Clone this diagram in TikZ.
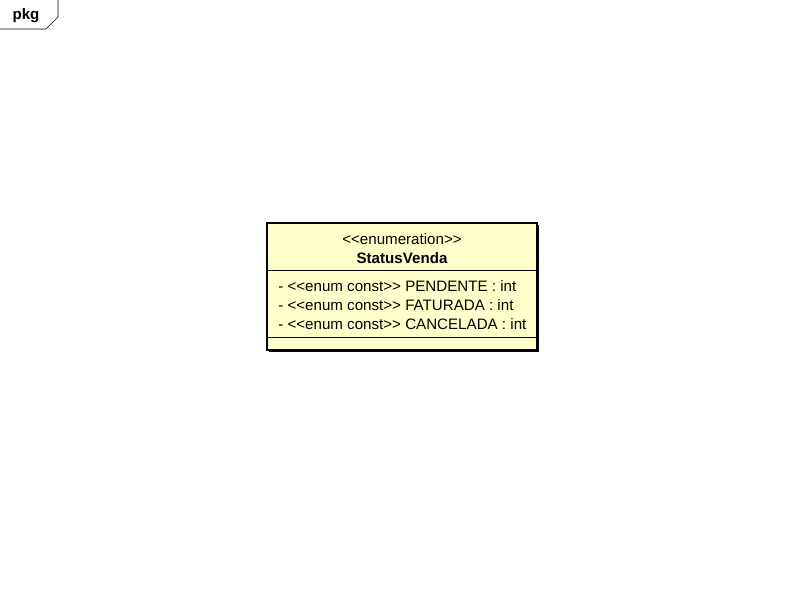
\documentclass[tikz,border=0pt]{standalone}
\usepackage{fontspec}
\setmainfont{Liberation Sans}[Ligatures=TeXOff]
\definecolor{enumfill}{HTML}{FFFFCC}
\tikzset{txt/.style={inner sep=0pt,font=\fontsize{11.35pt}{13pt}\selectfont}}
\begin{document}
\begin{tikzpicture}[x=0.75pt,y=-0.75pt]
		\useasboundingbox (0,0) rectangle (800,599);
		\node[txt,font=\bfseries\fontsize{11.35pt}{13pt}\selectfont] (pkg) at (26,16) {pkg};
		\draw (0,29) -- (46,29) -- (58,17) -- (58,0);
		\fill[black] (269,225) rectangle (539,352);
		\draw[fill=enumfill,line width=1.6pt] (267,223) rectangle (537,350);
		\draw (267,270) -- (537,270) (267,337) -- (537,337);
		\node[txt] (stereo) at (402,239) {<<enumeration>>};
		\node[txt,font=\bfseries\fontsize{11.35pt}{13pt}\selectfont] (name) at (402,258) {StatusVenda};
		\node[txt,anchor=west] (a1) at (278,286) {- <<enum const>> PENDENTE : int};
		\node[txt,anchor=west] (a2) at (278,305) {- <<enum const>> FATURADA : int};
		\node[txt,anchor=west] (a3) at (278,324) {- <<enum const>> CANCELADA : int};
	\end{tikzpicture}
\end{document}
